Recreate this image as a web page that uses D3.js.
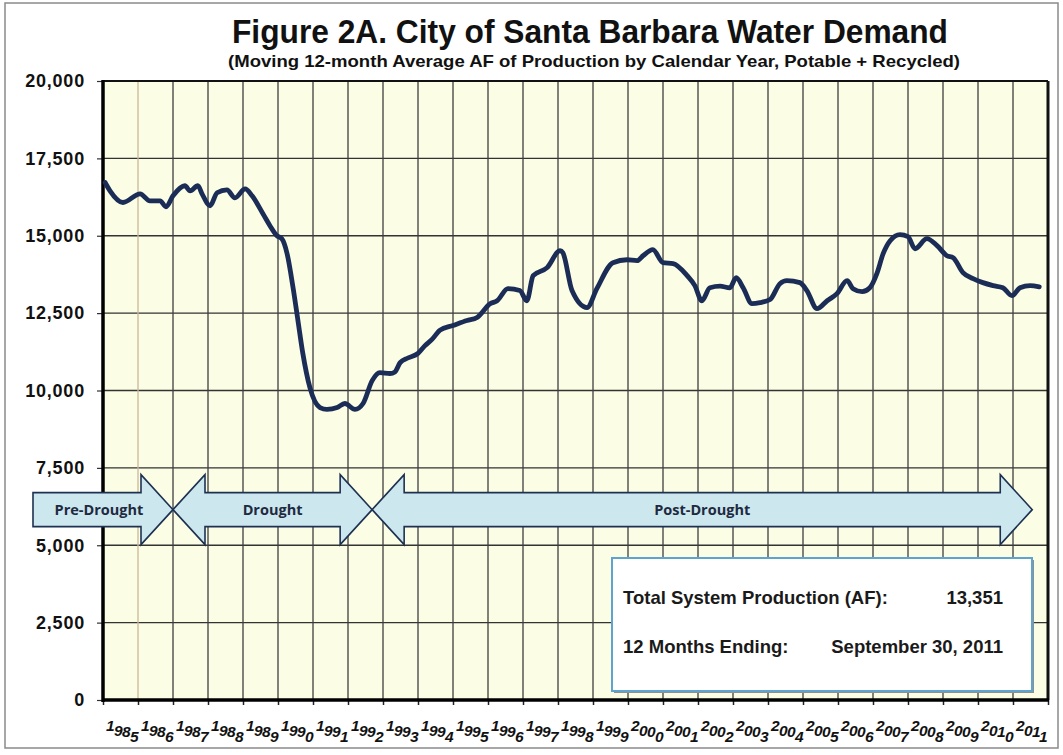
<!DOCTYPE html>
<html><head><meta charset="utf-8">
<script src="https://cdn.jsdelivr.net/npm/d3@7"></script>
<style>body{margin:0;background:#fff} svg{display:block}</style>
</head><body><svg id="c" width="1063" height="755"></svg>
<script>
// ---------- data ----------
const years = d3.range(1985, 2012);
const yTicks = [0, 2500, 5000, 7500, 10000, 12500, 15000, 17500, 20000];
const time = [1985.06,1985.20,1985.57,1986.06,1986.34,1986.63,1986.80,1987.00,1987.34,1987.49,1987.71,1987.83,
  1988.06,1988.26,1988.54,1988.77,1989.06,1989.26,1989.57,1989.77,1989.97,1990.11,1990.26,1990.43,1990.57,1990.71,
  1990.91,1991.20,1991.40,1991.69,1991.91,1992.20,1992.43,1992.69,1992.91,1993.20,1993.34,1993.49,1993.71,1994.00,
  1994.20,1994.40,1994.63,1995.00,1995.40,1995.69,1996.06,1996.26,1996.57,1996.91,1997.11,1997.29,1997.69,1998.06,
  1998.14,1998.40,1998.83,1999.11,1999.57,1999.97,2000.26,2000.43,2000.71,2001.00,2001.29,2001.69,2001.91,2002.11,
  2002.34,2002.63,2002.91,2003.09,2003.29,2003.54,2003.77,2004.06,2004.34,2004.54,2004.91,2005.11,2005.40,2005.69,
  2005.97,2006.26,2006.43,2006.69,2006.91,2007.11,2007.29,2007.49,2007.77,2008.00,2008.20,2008.54,2008.83,2009.11,
  2009.29,2009.57,2009.86,2010.14,2010.43,2010.71,2010.97,2011.20,2011.49,2011.75];
const demand = [16720,16450,16075,16355,16130,16130,15935,16290,16615,16450,16615,16355,
  15970,16390,16485,16225,16515,16290,15710,15325,15000,14900,14420,13325,12260,11195,
  10100,9450,9390,9450,9580,9390,9580,10320,10580,10550,10600,10900,11050,11200,
  11450,11650,11950,12100,12260,12360,12800,12900,13290,13230,12900,13710,13970,14520,
  14450,13230,12680,13290,14130,14225,14195,14355,14550,14130,14100,13710,13390,12900,
  13320,13370,13320,13645,13320,12810,12840,12940,13450,13550,13485,13230,12645,12900,
  13130,13550,13290,13195,13320,13775,14420,14840,15035,14970,14580,14905,14680,14355,
  14290,13810,13615,13485,13390,13320,13065,13320,13390,13351];
const eraNames = ["Pre-Drought", "Drought", "Post-Drought"];
const eraStart = [1983.0, 1987.0, 1992.69];
const eraEnd = [1987.0, 1992.69, 2011.55];
const eraDoubleHead = [false, true, true];
const eraLevel = 6150;
const titleText = "Figure 2A.  City of Santa Barbara Water Demand";
const subtitleText = "(Moving 12-month Average AF of Production by Calendar Year, Potable + Recycled)";
const infoLabels = ["Total System Production (AF):", "12 Months Ending:"];
const infoValues = ["13,351", "September 30, 2011"];

// ---------- layout ----------
const svg = d3.select("#c");
const L = 103, R = 1048, T = 81, B = 700;
const x = d3.scaleLinear().domain([1985, 2012]).range([L, R]);
const y = d3.scaleLinear().domain([0, 20000]).range([B, T]);
const FONT = "'Liberation Sans', Arial, sans-serif";
const NARROW = "'Liberation Sans Narrow', 'Arial Narrow', 'Liberation Sans', Arial, sans-serif";

// outer frame
svg.append("rect").attr("x", 5).attr("y", 3).attr("width", 1053).attr("height", 745)
  .attr("fill", "#fff").attr("stroke", "#8a8a8a").attr("stroke-width", 1.5);

// plot background
svg.append("rect").attr("x", L).attr("y", T).attr("width", R - L).attr("height", B - T).attr("fill", "#fbfde4");

// gridlines
svg.append("g").selectAll("line").data(yTicks).join("line")
  .attr("x1", L).attr("x2", R).attr("y1", d => y(d)).attr("y2", d => y(d))
  .attr("stroke", "#333").attr("stroke-width", 1.3);
svg.append("g").selectAll("line").data(years.slice(1)).join("line")
  .attr("x1", d => x(d)).attr("x2", d => x(d)).attr("y1", T).attr("y2", B)
  .attr("stroke", d => d === 1986 ? "#c9b99a" : "#3f3f3f").attr("stroke-width", 1.3);

// y axis
const yAxis = svg.append("g").attr("transform", `translate(${L},0)`)
  .call(d3.axisLeft(y).tickValues(yTicks).tickSize(6).tickPadding(12).tickFormat(d3.format(",")));
yAxis.select(".domain").remove();
yAxis.selectAll(".tick line").attr("stroke", "#333").attr("stroke-width", 1.2);
yAxis.selectAll(".tick text").attr("font-family", FONT).attr("font-weight", "bold")
  .attr("font-size", 18).attr("fill", "#111").attr("letter-spacing", 0.8);

// x axis ticks
const xAxis = svg.append("g").attr("transform", `translate(0,${B})`)
  .call(d3.axisBottom(x).tickValues(d3.range(1985, 2013)).tickSize(5).tickFormat(""));
xAxis.select(".domain").remove();
xAxis.selectAll(".tick line").attr("stroke", "#222").attr("stroke-width", 1.5);

// x labels (staggered characters)
const charDy = [0, 4.5, 1.5, 5];
const xl = svg.append("g").selectAll("text").data(years).join("text")
  .attr("x", d => x(d) + 3).attr("y", 731)
  .attr("font-family", FONT).attr("font-weight", "bold").attr("font-style", "italic")
  .attr("font-size", 15.5).attr("fill", "#111").attr("letter-spacing", -0.6);
xl.selectAll("tspan").data(d => String(d).split("")).join("tspan")
  .attr("dy", (c, i) => charDy[i]).text(c => c);

// plot borders
svg.append("line").attr("x1", L).attr("x2", R).attr("y1", T).attr("y2", T).attr("stroke", "#111").attr("stroke-width", 2.2);
svg.append("line").attr("x1", R).attr("x2", R).attr("y1", T).attr("y2", B).attr("stroke", "#111").attr("stroke-width", 3);
svg.append("line").attr("x1", L).attr("x2", L).attr("y1", T - 1).attr("y2", B + 2).attr("stroke", "#000").attr("stroke-width", 3.5);
svg.append("line").attr("x1", L - 1).attr("x2", R + 1).attr("y1", B).attr("y2", B).attr("stroke", "#000").attr("stroke-width", 3.5);

// line
const lineGen = d3.line().x((d, i) => x(time[i])).y(d => y(d)).curve(d3.curveMonotoneX);
svg.append("path").datum(demand).attr("d", lineGen)
  .attr("fill", "none").attr("stroke", "#1b2d57").attr("stroke-width", 4.8)
  .attr("stroke-linejoin", "round").attr("stroke-linecap", "round");

// era arrows
const hb = 17, hh = 35, hl = 32;
const cy = y(eraLevel);
eraNames.forEach((name, i) => {
  const x0 = x(eraStart[i]), x1 = x(eraEnd[i]);
  let pts;
  if (eraDoubleHead[i]) {
    pts = [[x0, cy], [x0 + hl, cy - hh], [x0 + hl, cy - hb], [x1 - hl, cy - hb], [x1 - hl, cy - hh], [x1, cy],
           [x1 - hl, cy + hh], [x1 - hl, cy + hb], [x0 + hl, cy + hb], [x0 + hl, cy + hh]];
  } else {
    pts = [[x0, cy - hb], [x1 - hl, cy - hb], [x1 - hl, cy - hh], [x1, cy],
           [x1 - hl, cy + hh], [x1 - hl, cy + hb], [x0, cy + hb]];
  }
  svg.append("path").attr("d", "M" + pts.map(p => p.join(",")).join("L") + "Z")
    .attr("fill", "#cde7ef").attr("stroke", "#1e3152").attr("stroke-width", 1.6).attr("stroke-linejoin", "miter");
  const tx = eraDoubleHead[i] ? (x0 + x1) / 2 : (x0 + x1) / 2 - 4;
  svg.append("text").attr("x", tx).attr("y", cy + 5)
    .attr("text-anchor", "middle").attr("font-family", "'Open Sans', " + FONT).attr("font-weight", "bold")
    .attr("font-size", 14.5).attr("fill", "#1e2a40").text(name);
});

// info box
const bx = 612, by = 558, bw = 420, bh = 133;
svg.append("rect").attr("x", bx + 2).attr("y", by + 2).attr("width", bw).attr("height", bh).attr("fill", "#8f8f8f");
svg.append("rect").attr("x", bx).attr("y", by).attr("width", bw).attr("height", bh)
  .attr("fill", "#ffffff").attr("stroke", "#5fa3cf").attr("stroke-width", 2);
infoLabels.forEach((t, i) => {
  svg.append("text").attr("x", bx + 11).attr("y", 604 + i * 49).attr("font-family", FONT)
    .attr("font-weight", "bold").attr("font-size", 18.5).attr("fill", "#1a1a1a").text(t);
  svg.append("text").attr("x", 1003).attr("y", 604 + i * 49).attr("text-anchor", "end").attr("font-family", FONT)
    .attr("font-weight", "bold").attr("font-size", 18.5).attr("fill", "#1a1a1a").text(infoValues[i]);
});

// titles
svg.append("text").attr("x", 590).attr("y", 43).attr("text-anchor", "middle")
  .attr("font-family", NARROW).attr("font-weight", "bold").attr("font-size", 34).attr("fill", "#111")
  .attr("textLength", 716).attr("lengthAdjust", "spacingAndGlyphs").text(titleText);
svg.append("text").attr("x", 594).attr("y", 67).attr("text-anchor", "middle")
  .attr("font-family", NARROW).attr("font-weight", "bold").attr("font-size", 17).attr("fill", "#111")
  .attr("textLength", 732).attr("lengthAdjust", "spacingAndGlyphs").text(subtitleText);
</script></body></html>
